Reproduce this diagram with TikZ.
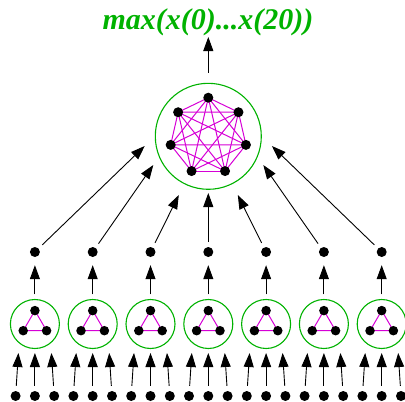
\documentclass[tikz,border=0pt]{standalone}
\usepackage{fontspec}
\setmainfont{Liberation Serif}
\usetikzlibrary{arrows.meta,backgrounds}
\definecolor{grn}{RGB}{0,178,0}
\definecolor{mag}{RGB}{214,0,214}
\begin{document}
\begin{tikzpicture}[x=1pt,y=-1pt,
  dot/.style={circle,fill=black,inner sep=0pt,minimum size=10pt},
  arr/.style={-{Triangle[length=14pt,width=10pt]},line width=0.9pt,black},
  ring/.style={circle,draw=grn,line width=1.1pt,inner sep=0pt},
  kedge/.style={draw=mag,line width=1pt},
  ttl/.style={text=grn,font=\bfseries\itshape\fontsize{30}{31}\selectfont,anchor=base,inner sep=0pt}]
\useasboundingbox (0,0) rectangle (405,402);
% title
\node[ttl] (title) at (208,29) {max(x(0)...x(20))};
\coordinate (ttip) at (208.3,37);
% big circle with K7
\node[ring,minimum size=106pt] (big) at (208.3,136.3) {};
\foreach \k in {0,...,6}{
  \pgfmathsetmacro\ang{-90+\k*360/7}
  \path (big.center) ++(\ang:38.6) node[dot] (h\k) {};
}
\begin{pgfonlayer}{background}
\foreach \i in {0,...,5}{
  \pgfmathtruncatemacro\s{\i+1}
  \foreach \j in {\s,...,6}{
    \draw[kedge] (h\i.center) -- (h\j.center);
  }
}
\end{pgfonlayer}
\draw[arr,shorten <=10pt] (big) -- (ttip);
% tips of arrows into the big circle
\coordinate (t0) at (144.7,146);
\coordinate (t1) at (153.3,165);
\coordinate (t2) at (178.8,195);
\coordinate (t3) at (208.3,193);
\coordinate (t4) at (237.8,195);
\coordinate (t5) at (263.3,165);
\coordinate (t6) at (271.9,146);
% groups
\foreach \g in {0,...,6}{
  \pgfmathsetmacro\cx{208.3+(\g-3)*57.8}
  \node[ring,minimum size=49pt] (r\g) at (\cx,324) {};
  \node[dot,minimum size=9.5pt] (a\g) at (\cx,310.6) {};
  \node[dot,minimum size=9.5pt] (l\g) at (\cx-11.7,330.7) {};
  \node[dot,minimum size=9.5pt] (q\g) at (\cx+11.7,330.7) {};
  \begin{pgfonlayer}{background}
    \draw[kedge] (a\g.center) -- (l\g.center) -- (q\g.center) -- (a\g.center);
  \end{pgfonlayer}
  \node[dot] (m\g) at (\cx,252) {};
  \draw[arr,shorten <=4.5pt,shorten >=8pt] (r\g) -- (m\g);
  \draw[arr,shorten <=5pt] (m\g) -- (t\g);
  \foreach \k in {0,1,2}{
    \node[dot] (b\g\k) at (\cx+\k*19.3-19.3,396) {};
    \coordinate (bt\g\k) at (\cx+\k*16.5-16.5,353);
    \draw[arr,shorten <=5pt] (b\g\k) -- (bt\g\k);
  }
}
\end{tikzpicture}
\end{document}
